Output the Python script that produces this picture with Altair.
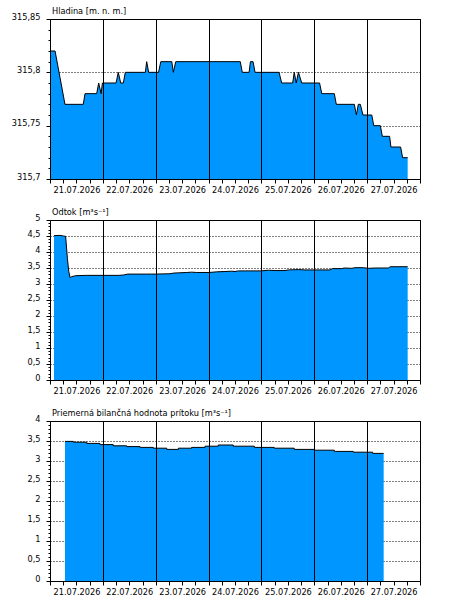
import json
import altair as alt
import pandas as pd

# ---------------- data ----------------
day_labels = ["21.07.2026", "22.07.2026", "23.07.2026", "24.07.2026",
              "25.07.2026", "26.07.2026", "27.07.2026"]

# hours since 21.07.2026 00:00
level_hours = [0, 2.3, 6.8, 15.1, 15.9, 21.2, 22.1, 23.2, 23.8,
               30.0, 31.0, 32.1, 33.3, 34.2, 43.3, 43.9, 44.8, 49.3, 50.3,
               55.3, 56.0, 57.1, 86.4, 87.3, 90.4, 91.0, 92.2, 93.1,
               104.0, 105.2, 110.2, 110.9, 111.8, 112.8, 114.3, 122.4, 123.4,
               129.1, 130.0, 138.2, 139.1, 140.0, 140.9, 142.1, 146.1, 147.0,
               150.0, 150.9, 154.2, 154.8, 159.2, 160.1, 162.4]
level_values = [315.82, 315.82, 315.77, 315.77, 315.78, 315.78, 315.79, 315.78, 315.79,
                315.79, 315.80, 315.79, 315.79, 315.80, 315.80, 315.81, 315.80, 315.80, 315.81,
                315.81, 315.80, 315.81, 315.81, 315.80, 315.80, 315.81, 315.81, 315.80,
                315.80, 315.79, 315.79, 315.80, 315.79, 315.80, 315.79, 315.79, 315.78,
                315.78, 315.77, 315.77, 315.76, 315.77, 315.77, 315.76, 315.76, 315.75,
                315.75, 315.74, 315.74, 315.73, 315.73, 315.72, 315.72]

outflow_hours = [1.8, 4.5, 6.1, 7.1, 7.9, 8.5, 9.1, 9.8, 11.8, 16.6, 24.2, 31.0,
                 33.3, 35.3, 43.9, 48.1, 54.5, 56.0, 62.1, 64.3, 66.6, 72.3, 75.7,
                 79.5, 82.5, 84.0, 85.5, 95.8, 99.1, 102.2, 106.7, 108.2, 112.7,
                 115.8, 127.1, 128.2, 132.4, 133.6, 137.0, 138.5, 142.3, 144.5,
                 147.6, 153.6, 154.5, 162.4]
outflow_values = [4.51, 4.52, 4.50, 4.49, 3.80, 3.40, 3.20, 3.23, 3.26, 3.27, 3.27, 3.27,
                  3.28, 3.31, 3.31, 3.31, 3.32, 3.34, 3.36, 3.37, 3.36, 3.36, 3.38,
                  3.39, 3.40, 3.39, 3.41, 3.41, 3.43, 3.42, 3.42, 3.44, 3.45,
                  3.44, 3.44, 3.48, 3.48, 3.50, 3.49, 3.51, 3.51, 3.49,
                  3.50, 3.50, 3.54, 3.54]

inflow_hours = [6.8, 10.6, 16.7, 22.7, 28.7, 34.8, 40.9, 46.9, 53.0, 58.3, 64.3,
                70.4, 76.4, 83.2, 92.8, 101.8, 110.9, 120.0, 129.1, 137.7, 146.5, 151.5]
inflow_values = [3.49, 3.47, 3.44, 3.41, 3.38, 3.36, 3.34, 3.32, 3.29, 3.32, 3.34,
                 3.37, 3.40, 3.37, 3.34, 3.32, 3.29, 3.27, 3.24, 3.22, 3.19, 3.19]

titles = ["Hladina [m. n. m.]", "Odtok [m\u00b3s\u207b\u00b9]",
          "Priemern\u00e1 bilan\u010dn\u00e1 hodnota pr\u00edtoku [m\u00b3s\u207b\u00b9]"]

x_tick_values = list(range(0, 169, 6))
level_ticks = [round(315.70 + 0.01 * i, 2) for i in range(16)]
flow_ticks_5 = [round(0.1 * i, 1) for i in range(51)]
flow_ticks_4 = [round(0.1 * i, 1) for i in range(41)]

# ---------------- style ----------------
FILL = "#0096ff"
FONT = "DejaVu Sans"
FS = 8.2
W, H = 370, 160

x_label_expr = ("datum.value % 24 == 12 ? " + json.dumps(day_labels) +
                "[floor(datum.value / 24)] : ''")


def x_enc():
    return alt.X(
        "h:Q",
        scale=alt.Scale(domain=[0, 168], nice=False, zero=False),
        axis=alt.Axis(
            values=x_tick_values, labelExpr=x_label_expr, title=None,
            tickSize=4, tickColor="black", domainColor="black",
            labelOverlap=False, labelFlush=False, labelPadding=3,
            labelFont=FONT, labelFontSize=FS, labelColor="black",
            grid=True, gridColor="black", gridWidth=1,
            gridOpacity={"condition": {"test": "datum.value % 24 == 0", "value": 1}, "value": 0},
            zindex=1,
        ),
    )


def y_enc(domain, ticks, mult, fmt):
    major = f"abs(datum.value * {mult} - round(datum.value * {mult})) < 0.001"
    return alt.Y(
        "v:Q",
        scale=alt.Scale(domain=domain, nice=False, zero=False),
        axis=alt.Axis(
            values=ticks, title=None,
            labelExpr=f"{major} ? replace(format(datum.value, '{fmt}'), '.', ',') : ''",
            tickSize={"condition": {"test": major, "value": 4}, "value": 2},
            tickColor="black", domainColor="black",
            labelFont=FONT, labelFontSize=FS, labelColor="black",
            labelPadding=6, labelOffset=-2, labelOverlap=False, labelFlush=False,
            grid=True, gridColor="black", gridDash=[1, 2], gridWidth=1,
            gridOpacity={"condition": {"test": major, "value": 1}, "value": 0},
            zindex=0,
        ),
    )


def panel(hours, values, title, domain, ticks, mult, fmt, interp):
    df = pd.DataFrame({"h": hours, "v": values})
    return alt.Chart(df).mark_area(
        color=FILL, interpolate=interp, clip=True, opacity=1, fillOpacity=1,
        line={"color": "black", "strokeWidth": 1},
    ).encode(
        x=x_enc(),
        y=y_enc(domain, ticks, mult, fmt),
    ).properties(
        width=W, height=H,
        title=alt.TitleParams(
            text=title, anchor="start", frame="group", dx=2, offset=-4,
            font=FONT, fontSize=FS, fontWeight="normal", color="black",
        ),
    )


p1 = panel(level_hours, level_values, titles[0], [315.70, 315.85], level_ticks, 20, ".2~f", "linear")
p2 = panel(outflow_hours, outflow_values, titles[1], [0, 5], flow_ticks_5, 2, ".1~f", "linear")
p3 = panel(inflow_hours, inflow_values, titles[2], [0, 4], flow_ticks_4, 2, ".1~f", "step-after")

chart = alt.vconcat(p1, p2, p3, spacing=13).properties(
    padding={"left": 10, "top": 6, "right": 5, "bottom": 5},
    background="white",
).configure_view(stroke="black", strokeWidth=1)

chart.save("out.html", embed_options={"renderer": "svg", "actions": False})
